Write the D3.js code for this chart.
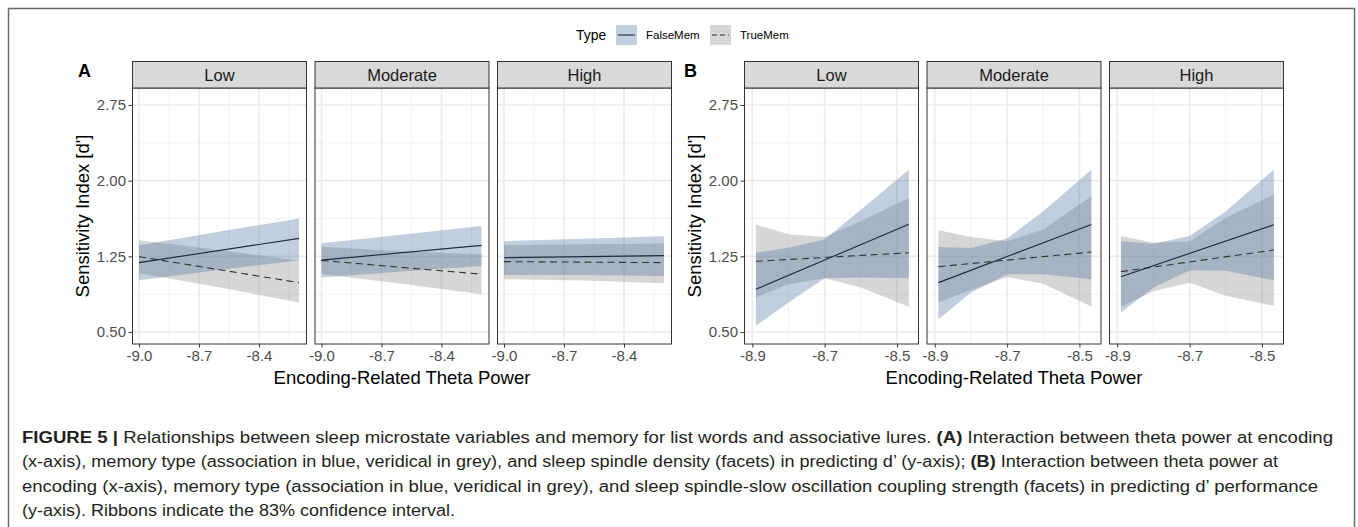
<!DOCTYPE html>
<html>
<head>
<meta charset="utf-8">
<script src="https://cdn.jsdelivr.net/npm/d3@7"></script>
<style>
  body { margin: 0; background: #fff; }
  svg { display: block; }
  text { font-family: "Liberation Sans", Arial, Helvetica, sans-serif; }
</style>
</head>
<body>
<svg id="chart"></svg>
<script>
'use strict';

// facets and series
const facets = ['Low', 'Moderate', 'High'];
const types = ['FalseMem', 'TrueMem'];
const yTicks = [0.50, 1.25, 2.00, 2.75];
const yMinor = [0.875, 1.625, 2.375];

// panel A: spindle density
const xTicksA = [-9.0, -8.7, -8.4];
const xMinorA = [-8.85, -8.55, -8.25];
const fitXA = [-9.0, -8.2];
const ribbonXA = [-9.0, -8.6, -8.2];
const aFitFalse = [[1.188, 1.428], [1.213, 1.359], [1.237, 1.257]];
const aFitTrue = [[1.247, 0.99], [1.21, 1.073], [1.198, 1.188]];
const aLoFalse = [[1.013, 1.115, 1.21], [1.04, 1.10, 1.155], [1.066, 1.065, 1.056]];
const aHiFalse = [[1.361, 1.495, 1.625], [1.381, 1.465, 1.55], [1.401, 1.425, 1.45]];
const aLoTrue = [[1.083, 0.944, 0.793], [1.075, 0.98, 0.875], [1.023, 1.01, 0.984]];
const aHiTrue = [[1.411, 1.312, 1.21], [1.345, 1.30, 1.27], [1.361, 1.37, 1.378]];

// panel B: spindle-SO coupling strength
const xTicksB = [-8.9, -8.7, -8.5];
const xMinorB = [-8.8, -8.6];
const fitXB = [-8.89, -8.467];
const ribbonXB = [-8.89, -8.8, -8.7, -8.6, -8.467];
const bFitFalse = [[0.924, 1.569], [0.99, 1.566], [1.049, 1.563]];
const bFitTrue = [[1.201, 1.286], [1.148, 1.293], [1.099, 1.313]];
const bLoFalse = [[0.562, 0.793, 1.033, 1.04, 1.033], [0.628, 0.892, 1.072, 1.073, 1.023], [0.694, 0.941, 1.109, 1.107, 1.013]];
const bHiFalse = [[1.286, 1.336, 1.418, 1.711, 2.109], [1.342, 1.334, 1.428, 1.697, 2.109], [1.401, 1.375, 1.451, 1.697, 2.109]];
const bLoTrue = [[0.842, 0.974, 1.033, 0.941, 0.75], [0.793, 0.917, 1.046, 0.978, 0.753], [0.75, 0.905, 0.989, 0.86, 0.76]];
const bHiTrue = [[1.566, 1.47, 1.441, 1.599, 1.829], [1.51, 1.441, 1.40, 1.516, 1.845], [1.451, 1.385, 1.401, 1.632, 1.862]];

const captionLines = [
  [['FIGURE 5 | ', true], ['Relationships between sleep microstate variables and memory for list words and associative lures. ', false], ['(A)', true], [' Interaction between theta power at encoding', false]],
  [['(x-axis), memory type (association in blue, veridical in grey), and sleep spindle density (facets) in predicting d\u2019 (y-axis); ', false], ['(B)', true], [' Interaction between theta power at', false]],
  [['encoding (x-axis), memory type (association in blue, veridical in grey), and sleep spindle-slow oscillation coupling strength (facets) in predicting d\u2019 performance', false]],
  [['(y-axis). Ribbons indicate the 83% confidence interval.', false]]
];
const captionWidths = [1311, 1256, 1296, 433];

const W = 1358, H = 527;
const panelW = 175, gap = 7.5;
const pTop = 88, pBottom = 344, stripTop = 61;
const fillCol = { FalseMem: '#4e73a1', TrueMem: '#898989' };
const fillOp = 0.35;
const lineCol = { FalseMem: '#1c2a3c', TrueMem: '#333333' };
const lineDash = { FalseMem: null, TrueMem: '7,4.5' };

const svg = d3.select('#chart').attr('width', W).attr('height', H);

svg.append('rect')
    .attr('x', 8.5).attr('y', 8.5)
    .attr('width', 1346).attr('height', 560)
    .style('fill', 'none')
    .style('stroke', '#6a6a6a')
    .style('stroke-width', 1.5);

const y = d3.scaleLinear().domain([0.382, 2.918]).range([pBottom, pTop]);

function drawGroup(cfg) {
  const g = svg.append('g');

  facets.forEach((f, i) => {
    const x0 = cfg.left + i * (panelW + gap);
    const x = d3.scaleLinear().domain(cfg.domain).range([x0, x0 + panelW]);
    const p = g.append('g');

    // grid
    p.selectAll('.ymin').data(yMinor).enter().append('line')
        .attr('x1', x0).attr('x2', x0 + panelW)
        .attr('y1', d => y(d)).attr('y2', d => y(d))
        .style('stroke', '#f2f2f2').style('stroke-width', 1);
    p.selectAll('.xmin').data(cfg.xMinor).enter().append('line')
        .attr('x1', d => x(d)).attr('x2', d => x(d))
        .attr('y1', pTop).attr('y2', pBottom)
        .style('stroke', '#f2f2f2').style('stroke-width', 1);
    p.selectAll('.ymaj').data(yTicks).enter().append('line')
        .attr('x1', x0).attr('x2', x0 + panelW)
        .attr('y1', d => y(d)).attr('y2', d => y(d))
        .style('stroke', '#ebebeb').style('stroke-width', 1.6);
    p.selectAll('.xmaj').data(cfg.xTicks).enter().append('line')
        .attr('x1', d => x(d)).attr('x2', d => x(d))
        .attr('y1', pTop).attr('y2', pBottom)
        .style('stroke', '#ebebeb').style('stroke-width', 1.6);

    // ribbons: grey below, blue on top
    const series = [
      { type: 'TrueMem', lo: cfg.loTrue[i], hi: cfg.hiTrue[i], fit: cfg.fitTrue[i] },
      { type: 'FalseMem', lo: cfg.loFalse[i], hi: cfg.hiFalse[i], fit: cfg.fitFalse[i] }
    ];
    const area = d3.area()
        .x(d => x(d.x))
        .y0(d => y(d.lo))
        .y1(d => y(d.hi));
    series.forEach(s => {
      const rows = cfg.ribbonX.map((xv, k) => ({ x: xv, lo: s.lo[k], hi: s.hi[k] }));
      p.append('path')
          .datum(rows)
          .attr('d', area)
          .style('fill', fillCol[s.type])
          .style('fill-opacity', fillOp);
    });
    const line = d3.line().x(d => x(d.x)).y(d => y(d.v));
    series.forEach(s => {
      const rows = cfg.fitX.map((xv, k) => ({ x: xv, v: s.fit[k] }));
      p.append('path')
          .datum(rows)
          .attr('d', line)
          .style('fill', 'none')
          .style('stroke', lineCol[s.type])
          .style('stroke-width', 1.1)
          .style('stroke-dasharray', lineDash[s.type]);
    });

    // panel border
    p.append('rect')
        .attr('x', x0 + 0.5).attr('y', pTop)
        .attr('width', panelW - 1).attr('height', pBottom - pTop)
        .style('fill', 'none').style('stroke', '#333').style('stroke-width', 1);

    // strip
    p.append('rect')
        .attr('x', x0 + 0.5).attr('y', stripTop + 0.5)
        .attr('width', panelW - 1).attr('height', pTop - stripTop - 0.5)
        .style('fill', '#d9d9d9').style('stroke', '#333').style('stroke-width', 1);
    p.append('text')
        .attr('x', x0 + panelW / 2).attr('y', 81)
        .attr('text-anchor', 'middle')
        .style('font-size', '16.5px').style('fill', '#1a1a1a')
        .text(f);

    // x axis
    const xAxis = d3.axisBottom(x)
        .tickValues(cfg.xTicks)
        .tickFormat(d => d.toFixed(1))
        .tickSize(3.5).tickPadding(3);
    const xa = p.append('g')
        .attr('transform', `translate(0, ${pBottom})`)
        .call(xAxis);
    xa.select('.domain').remove();
    xa.selectAll('line').style('stroke', '#333');
    xa.selectAll('text').style('font-size', '15px').style('fill', '#4d4d4d')
        .style('font-family', '"Liberation Sans", Arial, sans-serif');

    if (i === 0) {
      const yAxis = d3.axisLeft(y)
          .tickValues(yTicks)
          .tickFormat(d3.format('.2f'))
          .tickSize(3.5).tickPadding(2.5);
      const ya = p.append('g')
          .attr('transform', `translate(${x0}, 0)`)
          .call(yAxis);
      ya.select('.domain').remove();
      ya.selectAll('line').style('stroke', '#333');
      ya.selectAll('text').style('font-size', '15px').style('fill', '#4d4d4d')
          .style('font-family', '"Liberation Sans", Arial, sans-serif');
    }
  });

  const right = cfg.left + 3 * panelW + 2 * gap;

  g.append('text')
      .attr('x', (cfg.left + right) / 2).attr('y', 384)
      .attr('text-anchor', 'middle')
      .style('font-size', '18.5px').style('fill', '#000')
      .text('Encoding-Related Theta Power');

  g.append('text')
      .attr('transform', `translate(${cfg.left - 43}, ${(pTop + pBottom) / 2}) rotate(-90)`)
      .attr('text-anchor', 'middle')
      .style('font-size', '18.5px').style('fill', '#000')
      .text('Sensitivity Index [d\']');

  g.append('text')
      .attr('x', cfg.labelX).attr('y', 77)
      .style('font-size', '18px').style('font-weight', 'bold').style('fill', '#000')
      .text(cfg.label);
}

drawGroup({
  label: 'A', labelX: 78, left: 132, domain: [-9.035, -8.16],
  xTicks: xTicksA, xMinor: xMinorA, fitX: fitXA, ribbonX: ribbonXA,
  fitFalse: aFitFalse, fitTrue: aFitTrue,
  loFalse: aLoFalse, hiFalse: aHiFalse, loTrue: aLoTrue, hiTrue: aHiTrue
});

drawGroup({
  label: 'B', labelX: 684, left: 744, domain: [-8.923, -8.439],
  xTicks: xTicksB, xMinor: xMinorB, fitX: fitXB, ribbonX: ribbonXB,
  fitFalse: bFitFalse, fitTrue: bFitTrue,
  loFalse: bLoFalse, hiFalse: bHiFalse, loTrue: bLoTrue, hiTrue: bHiTrue
});

// legend
const legend = svg.append('g');
legend.append('text')
    .attr('x', 576).attr('y', 40)
    .style('font-size', '14px').style('fill', '#000')
    .text('Type');
const keyX = [616, 710];
types.forEach((t, i) => {
  const k = legend.append('g').attr('transform', `translate(${keyX[i]}, 25)`);
  k.append('rect')
      .attr('width', 21).attr('height', 20)
      .style('fill', fillCol[t]).style('fill-opacity', fillOp);
  k.append('line')
      .attr('x1', 2).attr('x2', 19).attr('y1', 10).attr('y2', 10)
      .style('stroke', lineCol[t]).style('stroke-width', 1.1)
      .style('stroke-dasharray', t === 'TrueMem' ? '5,3' : null);
  k.append('text')
      .attr('x', 30).attr('y', 14)
      .style('font-size', '11.5px').style('fill', '#000')
      .text(t);
});

// caption
const cap = svg.append('g');
captionLines.forEach((parts, i) => {
  const t = cap.append('text')
      .attr('x', 22).attr('y', 443 + i * 24.3)
      .attr('textLength', captionWidths[i])
      .attr('lengthAdjust', 'spacingAndGlyphs')
      .style('font-size', '16px').style('fill', '#231f20');
  parts.forEach(([s, b]) => {
    t.append('tspan').style('font-weight', b ? 'bold' : 'normal').text(s);
  });
});
</script>
</body>
</html>
